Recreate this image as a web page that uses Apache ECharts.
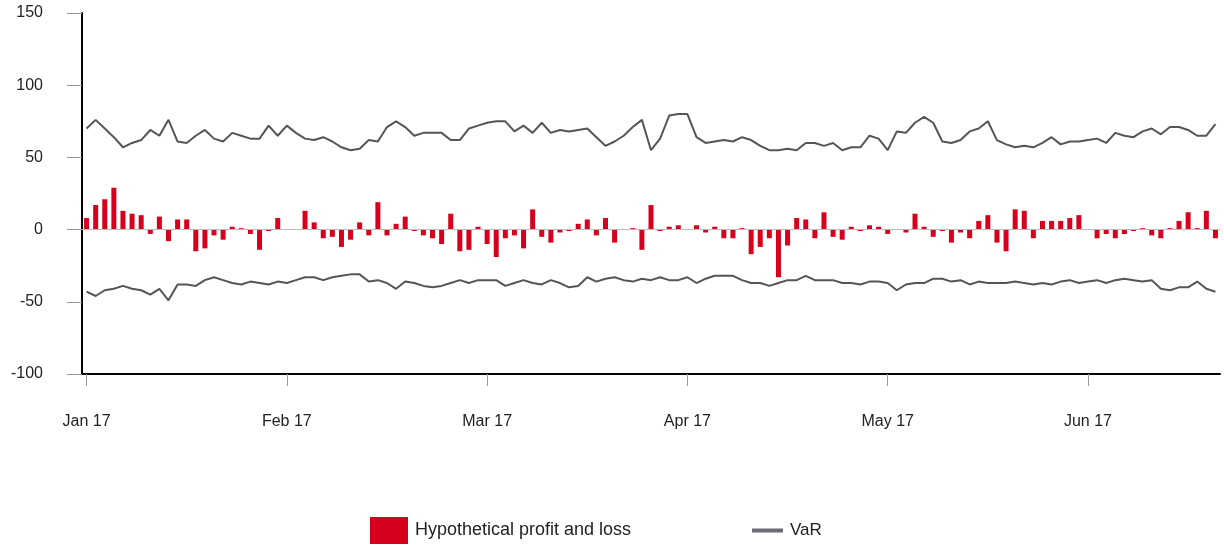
<!DOCTYPE html>
<html>
<head>
<meta charset="utf-8">
<script src="https://cdn.jsdelivr.net/npm/echarts@6/dist/echarts.min.js"></script>
<style>html,body{margin:0;padding:0;background:#fff}#c{width:1224px;height:546px}</style>
</head>
<body>
<div id="c"></div>
<script>
var monthLabels = ['Jan 17','Feb 17','Mar 17','Apr 17','May 17','Jun 17'];
var yTicks = [-100, -50, 0, 50, 100, 150];
var pnl = [8,17,21,29,13,11,10,-3,9,-8,7,7,-15,-13,-4,-7,2,1,-3,-14,-1,8,
0,0,13,5,-6,-5,-12,-7,5,-4,19,-4,4,9,-1,-4,-6,-10,11,-15,-14,2,-10,-19,
-6,-4,-13,14,-5,-9,-2,-1,4,7,-4,8,-9,0,1,-14,17,-1,2,3,0,3,
-2,2,-6,-6,1,-17,-12,-6,-33,-11,8,7,-6,12,-5,-7,2,-1,3,2,-3,
0,-2,11,2,-5,-1,-9,-2,-6,6,10,-9,-15,14,13,-6,6,6,6,8,10,0,-6,
-3,-6,-3,-1,1,-4,-6,1,6,12,1,13,-6];
var varUpper = [70,76,70,64,57,60,62,69,65,76,61,60,65,69,63,61,67,65,63,63,72,65,72,
67,63,62,64,61,57,55,56,62,61,71,75,71,65,67,67,67,62,62,70,72,74,75,
75,68,72,67,74,67,69,68,69,70,64,58,61,65,71,76,55,63,79,80,80,64,
60,61,62,61,64,62,58,55,55,56,55,60,60,58,60,55,57,57,65,63,55,68,
67,74,78,74,61,60,62,68,70,75,62,59,57,58,57,60,64,59,61,61,62,63,
60,67,65,64,68,70,66,71,71,69,65,65,73];
var varLower = [-43,-46,-42,-41,-39,-41,-42,-45,-41,-49,-38,-38,-39,-35,-33,-35,-37,-38,-36,-37,-38,-36,-37,
-35,-33,-33,-35,-33,-32,-31,-31,-36,-35,-37,-41,-36,-37,-39,-40,-39,-37,-35,-37,-35,-35,-35,
-39,-37,-35,-37,-38,-35,-37,-40,-39,-33,-36,-34,-33,-35,-36,-34,-35,-33,-35,-35,-33,-37,
-34,-32,-32,-32,-35,-37,-37,-39,-37,-35,-35,-32,-35,-35,-35,-37,-37,-38,-36,-36,-37,-42,
-38,-37,-37,-34,-34,-36,-35,-38,-36,-37,-37,-37,-36,-37,-38,-37,-38,-36,-35,-37,-36,-35,
-37,-35,-34,-35,-36,-35,-41,-42,-40,-40,-36,-41,-43];
var daysPerMonth = 22;
var categories = pnl.map(function (v, i) {
  return (i % daysPerMonth === 0) ? monthLabels[i / daysPerMonth] : ('d' + i);
});

var chart = echarts.init(document.getElementById('c'));
var font = 'Arial, "Liberation Sans", Helvetica, sans-serif';
chart.setOption({
  animation: false,
  grid: { left: 82, right: 4, top: 13, bottom: 172 },
  legend: [
    { left: 370, top: 517, padding: 0, itemWidth: 38, itemHeight: 27, icon: 'rect',
      data: ['Hypothetical profit and loss'],
      textStyle: { fontFamily: font, fontSize: 18, color: '#222', padding: [0, 0, 0, 2] } },
    { left: 752, top: 522, padding: 0, itemWidth: 31, itemHeight: 4, icon: 'rect',
      data: ['VaR'],
      textStyle: { fontFamily: font, fontSize: 17, color: '#222', padding: [0, 0, 0, 2] } }
  ],
  xAxis: {
    type: 'category',
    data: categories,
    boundaryGap: true,
    axisLine: { onZero: false, lineStyle: { color: '#000', width: 2 } },
    axisTick: { show: true, interval: daysPerMonth - 1, alignWithLabel: true, length: 12,
      lineStyle: { color: '#999', width: 1 } },
    axisLabel: { interval: daysPerMonth - 1, margin: 40, fontFamily: font, fontSize: 16, color: '#222' },
    splitLine: { show: false }
  },
  yAxis: {
    type: 'value',
    min: yTicks[0], max: yTicks[yTicks.length - 1], interval: 50,
    axisLine: { show: true, lineStyle: { color: '#000', width: 2 } },
    axisTick: { show: true, length: 15, lineStyle: { color: '#999', width: 1 } },
    axisLabel: { margin: 39, fontFamily: font, fontSize: 16, color: '#222' },
    splitLine: { show: false }
  },
  series: [
    { name: 'Hypothetical profit and loss', type: 'bar', data: pnl, barWidth: 5,
      itemStyle: { color: '#d6001c' },
      markLine: { silent: true, symbol: 'none', label: { show: false },
        lineStyle: { color: '#bbb', width: 1, type: 'solid' },
        data: [{ yAxis: 0 }] } },
    { name: 'VaR', type: 'line', data: varUpper, symbol: 'none',
      lineStyle: { color: '#555', width: 2 }, itemStyle: { color: '#6b6b73' } },
    { name: 'VaR', type: 'line', data: varLower, symbol: 'none',
      lineStyle: { color: '#555', width: 2 }, itemStyle: { color: '#6b6b73' } }
  ]
});
</script>
</body>
</html>
